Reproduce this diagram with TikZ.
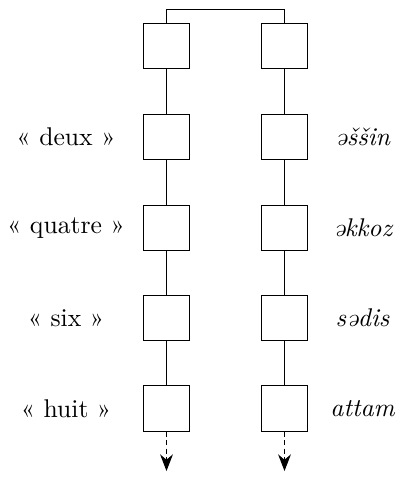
\documentclass[tikz,border=0pt]{standalone}
\usetikzlibrary{arrows.meta}

\begin{document}
\begin{tikzpicture}[x=0.39pt, y=-0.39pt,
    cell/.style={draw, minimum size=17.6pt, inner sep=0pt},
    gloss/.style={font=\itshape},
    more/.style={dash pattern=on 2pt off 1.3pt, -{Stealth[length=6.5pt, width=5pt]}}]
\useasboundingbox (0,0) rectangle (400,478);

%%% top pair, joined above %%%
      \node[cell] (l0) at (166.5,46) {};
      \node[cell] (r0) at (284.5,46) {};
      \coordinate (join) at (225.5,9.5);
      \draw (l0.north) |- (join) -| (r0.north);

%%% left column %%%
      \node[cell] (l1) at (166.5,137) {};
      \node[cell] (l2) at (166.5,228) {};
      \node[cell] (l3) at (166.5,318) {};
      \node[cell] (l4) at (166.5,408.5) {};
      \coordinate (lend) at (166.5,471);
      \draw (l0) -- (l1) -- (l2) -- (l3) -- (l4);
      \draw[more] (l4) -- (lend);

%%% right column %%%
      \node[cell] (r1) at (284.5,137) {};
      \node[cell] (r2) at (284.5,228) {};
      \node[cell] (r3) at (284.5,318) {};
      \node[cell] (r4) at (284.5,408.5) {};
      \coordinate (rend) at (284.5,471);
      \draw (r0) -- (r1) -- (r2) -- (r3) -- (r4);
      \draw[more] (r4) -- (rend);

%%% words %%%
      \node (deux)   at (66,137)   {« deux »};
      \node (quatre) at (66,228)   {« quatre »};
      \node (six)    at (66,318)   {« six »};
      \node (huit)   at (66,408.5) {« huit »};

      \node[gloss] (essin) at (362.5,137)   {əššin};
      \node[gloss] (ekkoz) at (362.5,228)   {əkkoz};
      \node[gloss] (sedis) at (362.5,318)   {sədis};
      \node[gloss] (attam) at (362.5,408.5) {attam};

\end{tikzpicture}
\end{document}
